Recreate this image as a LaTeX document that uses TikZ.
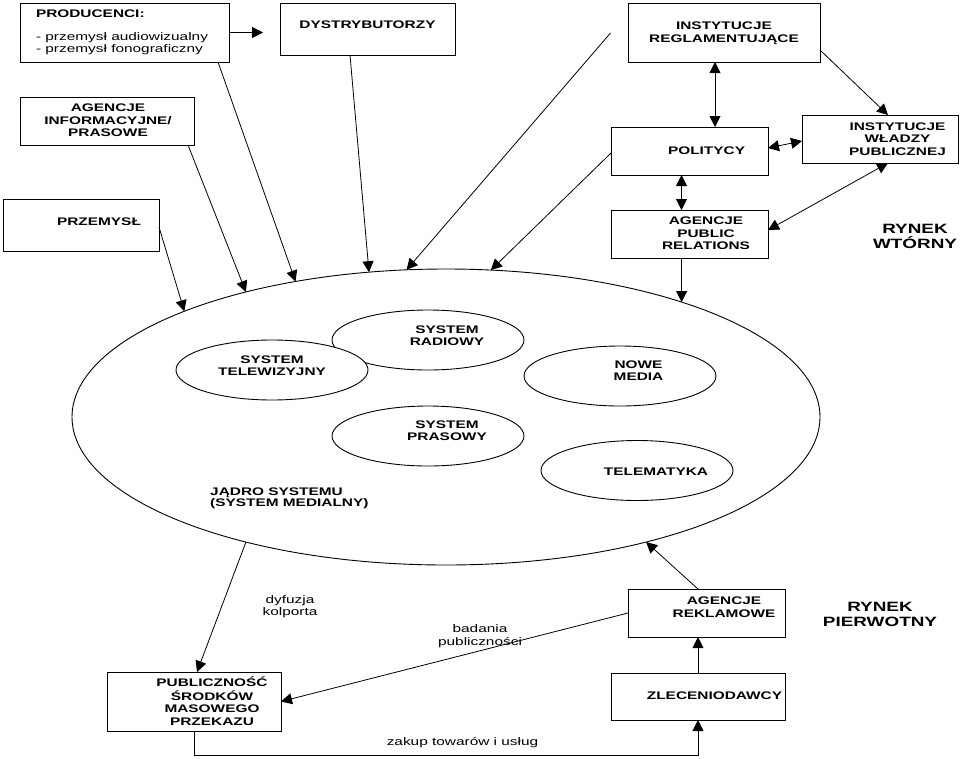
\documentclass[tikz,border=0pt]{standalone}
\usepackage{fontspec}
\setmainfont{Liberation Sans}[FakeStretch=1.4]
\usetikzlibrary{shapes.geometric,arrows.meta}
% centred block of lines, shifted by #1/2 to the right and #2 up
\newcommand\bxt[3]{\raisebox{\dimexpr#2-4.1pt\relax}[0pt][0pt]{\makebox[0pt]{\hspace*{#1}\begin{tabular}{@{}c@{}}#3\end{tabular}}}}
% left aligned block starting #1 from the node centre
\newcommand\bxl[3]{\raisebox{\dimexpr#2-4.1pt\relax}[0pt][0pt]{\makebox[0pt][l]{\hspace*{#1}\begin{tabular}{@{}l@{}}#3\end{tabular}}}}
\begin{document}
\begin{tikzpicture}[x=1pt,y=-1pt,
  box/.style={draw, line width=1pt, rectangle, inner sep=0pt, outer sep=0pt,
    font=\bfseries\fontsize{11}{12.6}\selectfont},
  oval/.style={draw, fill=white, ellipse, line width=0.9pt, inner sep=0pt, outer sep=0pt,
    minimum width=192pt, minimum height=60pt, font=\bfseries\fontsize{11}{12.6}\selectfont},
  conn/.style={line width=0.8pt, -{Triangle[length=11pt,width=11pt]}},
  biconn/.style={line width=0.8pt, {Triangle[length=11pt,width=11pt]}-{Triangle[length=11pt,width=11pt]}},
  lbl/.style={inner sep=0pt, align=center, font=\fontsize{11}{12.6}\selectfont},
  market/.style={inner sep=0pt, align=center, font=\bfseries\fontsize{13.5}{15}\selectfont}]
\useasboundingbox (0,0) rectangle (960,758);

% boxes
\node[box, minimum width=209pt, minimum height=59pt] (prod) at (124.5,32.5)
  {\bxl{-88.5pt}{1pt}{PRODUCENCI:\\[10pt]\mdseries - przemysł audiowizualny\\\mdseries - przemysł fonograficzny}};
\node[box, minimum width=175pt, minimum height=52pt] (dyst) at (367.5,29) {\bxt{0pt}{4pt}{DYSTRYBUTORZY}};
\node[box, minimum width=174pt, minimum height=48pt] (agi) at (107,121) {\bxt{2pt}{0.5pt}{AGENCJE\\INFORMACYJNE/\\PRASOWE}};
\node[box, minimum width=156pt, minimum height=52pt] (prz) at (81,225) {\bxt{36pt}{3pt}{PRZEMYSŁ}};
\node[box, minimum width=192pt, minimum height=59pt] (ir) at (724,32.5) {\bxt{0pt}{0.5pt}{INSTYTUCJE\\REGLAMENTUJĄCE}};
\node[box, minimum width=157pt, minimum height=48pt] (pol) at (689.5,151) {\bxt{34pt}{0pt}{POLITYCY}};
\node[box, minimum width=156pt, minimum height=48pt] (iwp) at (880,139) {\bxt{35pt}{0pt}{INSTYTUCJE\\WŁADZY\\PUBLICZNEJ}};
\node[box, minimum width=157pt, minimum height=48pt] (apr) at (689.5,234) {\bxt{33pt}{0.5pt}{AGENCJE\\PUBLIC\\RELATIONS}};
\node[box, minimum width=157pt, minimum height=48pt] (are) at (706.5,613) {\bxt{35pt}{6pt}{AGENCJE\\REKLAMOWE}};
\node[box, minimum width=174pt, minimum height=47pt] (zle) at (698,696.5) {\bxt{33pt}{0.5pt}{ZLECENIODAWCY}};
\node[box, minimum width=174pt, minimum height=59pt] (pub) at (194,701.5) {\bxt{36pt}{0pt}{PUBLICZNOŚĆ\\ŚRODKÓW\\MASOWEGO\\PRZEKAZU}};

% core of the system
\node[draw, ellipse, line width=0.9pt, inner sep=0pt, outer sep=0pt,
  minimum width=748pt, minimum height=296pt] (core) at (446,417) {};
\node[oval] (rad) at (428,340) {\bxt{38pt}{4.5pt}{SYSTEM\\RADIOWY}};
\node[oval] (tv) at (272,370) {\bxt{0pt}{4.5pt}{SYSTEM\\TELEWIZYJNY}};
\node[oval] (nm) at (620,376) {\bxt{37pt}{5.5pt}{NOWE\\MEDIA}};
\node[oval] (pras) at (428,436) {\bxt{38pt}{5.5pt}{SYSTEM\\PRASOWY}};
\node[oval] (tm) at (637,470.5) {\bxt{38pt}{-1pt}{TELEMATYKA}};
\node[lbl, anchor=west, align=left, font=\bfseries\fontsize{11}{11.5}\selectfont] (jadro) at (210,498.5)
  {JĄDRO SYSTEMU\\(SYSTEM MEDIALNY)};

% texts
\node[market] (rw) at (915,236) {RYNEK\\WTÓRNY};
\node[market] (rp) at (880,614) {RYNEK\\PIERWOTNY};
\node[lbl] (dyf) at (290,606.5) {dyfuzja\\kolporta};
\node[lbl] (bad) at (480,636) {badania\\publiczności};
\node[lbl] (zak) at (462.5,743) {zakup towarów i usług};

% connectors
\coordinate (fr) at (610.5,33);
\draw[conn] (prod.east) -- ([xshift=-17pt]dyst.west |- prod.east);
\draw[conn] ([xshift=93.5pt]prod.south) -- (core.138);
\draw[conn] ([xshift=81pt]agi.south) -- (core.148);
\draw[conn] ([yshift=-2pt]prz.east) -- (core.158);
\draw[conn] ([xshift=-17.5pt]dyst.south) -- (core.118);
\draw[conn] (fr) -- (core.105);
\draw[conn] ([yshift=-2pt]pol.west) -- (core.73);
\draw[conn] (apr.south -| core.26) -- (core.26);
\draw[biconn] ([xshift=-9pt]ir.south) -- ([xshift=25.5pt]pol.north);
\draw[biconn] ([xshift=-8pt]pol.south) -- ([xshift=-8pt]apr.north);
\draw[conn] ([yshift=-17.5pt]ir.east) -- ([xshift=8pt]iwp.north);
\draw[biconn] ([yshift=3pt]pol.east) -- ([yshift=-2pt]iwp.west);
\draw[biconn] ([xshift=8pt]iwp.south) -- ([yshift=4pt]apr.east);
\draw[conn] (core.212) -- ([xshift=3pt]pub.north);
\draw[conn] ([xshift=-8.5pt]are.north) -- (core.328);
\draw[conn] (are.west) -- (pub.east);
\draw[conn] (zle.north) -- (are.south -| zle.north);
\draw[conn] (pub.south) -- ++(0,24) -| (zle.south);
\end{tikzpicture}
\end{document}
